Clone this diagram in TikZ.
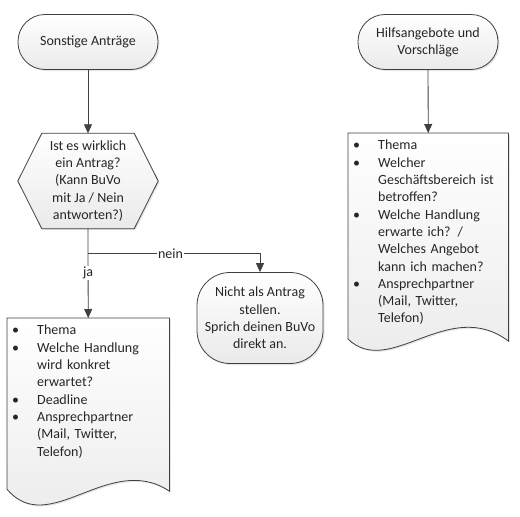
\documentclass[tikz,border=0pt]{standalone}
\usepackage{fontspec}
\setmainfont{Carlito}
\usetikzlibrary{arrows.meta,shadows,backgrounds,calc}

\definecolor{edgegray}{HTML}{404040}
\definecolor{fillgray}{HTML}{EAEAEA}

% list lines inside the documents
\newcommand\bul[1]{\makebox[25pt][l]{\textbullet}#1}
\newcommand\cont[1]{\hspace*{25pt}#1}

\tikzset{
  base/.style={font=\fontsize{14}{17.3}\selectfont, text=black!85, align=center},
  boxfill/.style={draw=edgegray, line width=0.8pt, top color=white, bottom color=fillgray,
    drop shadow={shadow xshift=1.5pt, shadow yshift=-1.5pt, opacity=0.2}},
  term/.style={base, boxfill, rectangle, rounded corners=27pt, minimum width=140pt, minimum height=55pt},
  hexa/.style={base, minimum width=140pt, minimum height=95pt, inner sep=0pt},
  doclist/.style={base, align=left, anchor=north west, inner xsep=5pt, inner ysep=7pt},
  flow/.style={draw=edgegray, line width=0.8pt, -{Triangle[width=8pt,length=9pt]}},
  lbl/.style={base, fill=white, inner sep=1pt}
}

\begin{document}
\begin{tikzpicture}[x=1pt, y=-1pt]
  \useasboundingbox (0,0) rectangle (520,517);

  % Start shapes
  \node[term] (sonst) at (88,42) {Sonstige Anträge};
  \node[term] (hilfe) at (428,42) {Hilfsangebote und\\Vorschläge};

  % Decision
  \node[hexa] (frage) at (88,181) {Ist es wirklich\\ein Antrag?\\(Kann BuVo\\mit Ja / Nein\\antworten?)};

  % Answer for "nein"
  \node[base, boxfill, rounded corners=33pt, minimum width=126pt, minimum height=91pt]
    (nicht) at (260,318) {Nicht als Antrag\\stellen.\\Sprich deinen BuVo\\direkt an.};

  % Document contents
  \node[doclist, text width=152pt] (antrag) at (7,318)
    {\bul{Thema}\\\bul{Welche Handlung}\\\cont{wird konkret}\\\cont{erwartet?}\\
     \bul{Deadline}\\\bul{Ansprechpartner}\\\cont{(Mail, Twitter,}\\\cont{Telefon)}};
  \node[doclist, text width=150pt] (angebot) at (348,133)
    {\bul{Thema}\\\bul{Welcher}\\\cont{Geschäftsbereich ist}\\\cont{betroffen?}\\
     \bul{Welche Handlung}\\\cont{erwarte ich? /}\\\cont{Welches Angebot}\\\cont{kann ich machen?}\\
     \bul{Ansprechpartner}\\\cont{(Mail, Twitter,}\\\cont{Telefon)}};

  % Outlines behind the texts
  \begin{scope}[on background layer]
    \path[boxfill] (frage.west) -- ([xshift=24pt]frage.north west) -- ([xshift=-24pt]frage.north east)
      -- (frage.east) -- ([xshift=-24pt]frage.south east) -- ([xshift=24pt]frage.south west) -- cycle;
    \path[boxfill] (antrag.north west) -- (antrag.north east) -- ([yshift=-26pt]antrag.south east)
      .. controls +(-60pt,40pt) and +(42pt,-50pt) .. ([yshift=-24pt]antrag.south west) -- cycle;
    \path[boxfill] (angebot.north west) -- (angebot.north east) -- ([yshift=-9pt]angebot.south east)
      .. controls +(-60pt,45pt) and +(42pt,-40pt) .. ([yshift=-7pt]angebot.south west) -- cycle;
  \end{scope}

  % Connectors
  \coordinate (abzweig) at ($(frage.south)+(0pt,-25pt)$);
  \draw[flow] (sonst) -- (frage);
  \draw[flow] (hilfe) -- (angebot.north);
  \draw[flow] (frage.south) -- node[lbl] {ja} (antrag.north);
  \draw[flow] (abzweig) -| node[lbl, pos=0.24] {nein} (nicht.north);
\end{tikzpicture}
\end{document}
